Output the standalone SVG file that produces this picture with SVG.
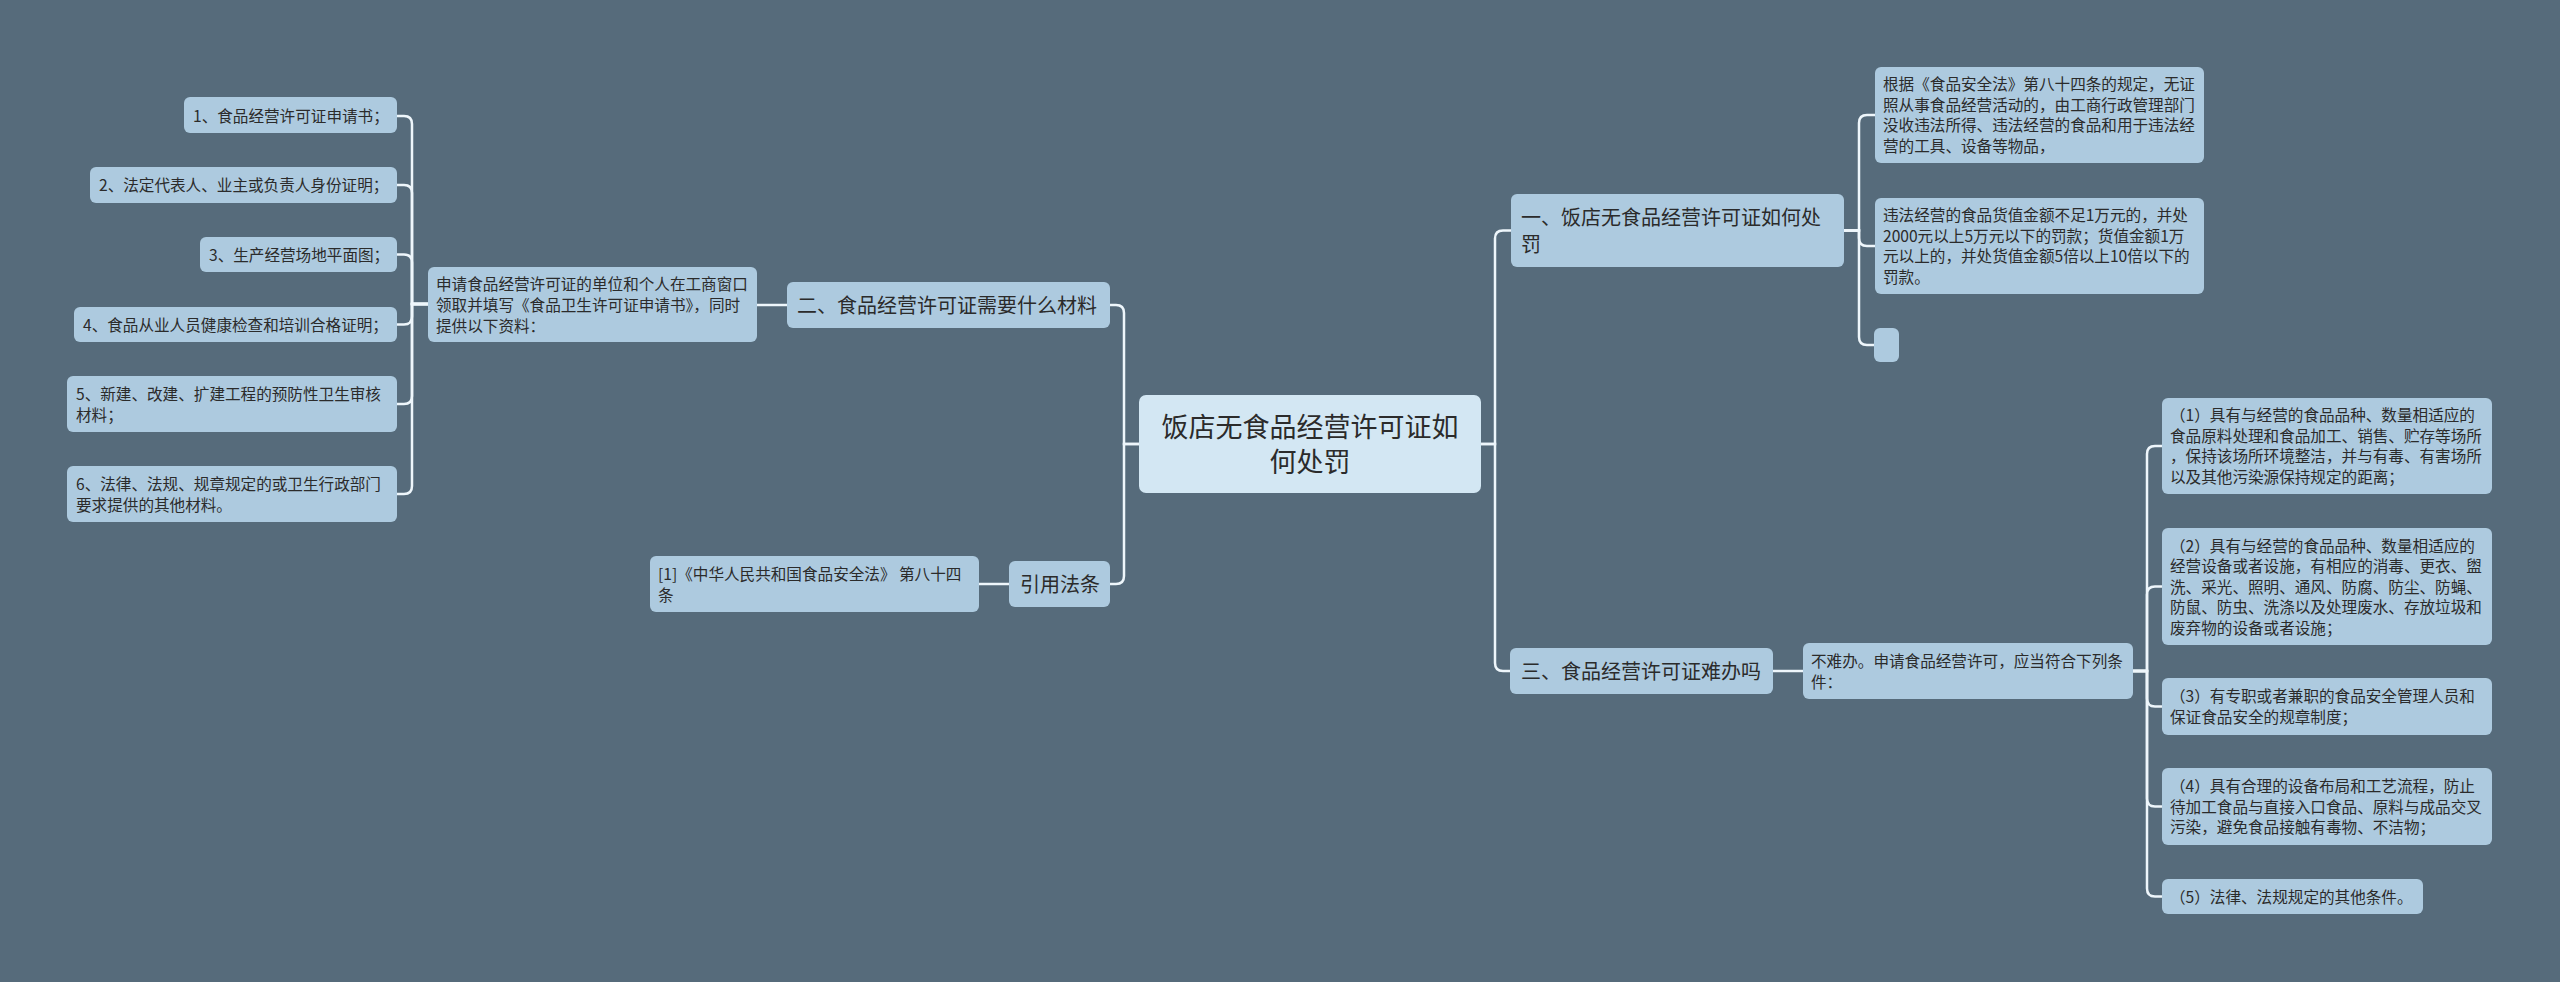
<svg xmlns="http://www.w3.org/2000/svg" width="2560" height="982" viewBox="0 0 2560 982">
<style>
.bg{fill:#566b7b}
.n rect{fill:#adcadf}
.c rect{fill:#d3e7f3}
text{font-family:"Noto Sans CJK SC","Liberation Sans",sans-serif;fill:#2b2b2b}
.l text{font-size:15.6px}
.m text{font-size:20px}
.c text{font-size:27px;text-anchor:middle}
#links path{fill:none;stroke:#eef6fb;stroke-width:2.5}
</style>
<rect class="bg" x="0" y="0" width="2560" height="982"/>
<g id="links">
<path d="M1139,444 H1124 V313 Q1124,305 1116,305 H1110"/>
<path d="M1139,444 H1124 V576 Q1124,584 1116,584 H1110"/>
<path d="M787,305 H757"/>
<path d="M428,304 H412 V124 Q412,116 404,116 H397"/>
<path d="M428,304 H412 V193 Q412,185 404,185 H397"/>
<path d="M428,304 H412 V262.5 Q412,254.5 404,254.5 H397"/>
<path d="M428,304 H412 V316.5 Q412,324.5 404,324.5 H397"/>
<path d="M428,304 H412 V396 Q412,404 404,404 H397"/>
<path d="M428,304 H412 V486 Q412,494 404,494 H397"/>
<path d="M1009,584 H979"/>
<path d="M1481,444 H1495 V238.5 Q1495,230.5 1503,230.5 H1511"/>
<path d="M1481,444 H1495 V663 Q1495,671 1503,671 H1510"/>
<path d="M1844,230.5 H1859 V123 Q1859,115 1867,115 H1875"/>
<path d="M1844,230.5 H1859 V238 Q1859,246 1867,246 H1875"/>
<path d="M1844,230.5 H1859 V337 Q1859,345 1867,345 H1874"/>
<path d="M1773,671 H1803"/>
<path d="M2133,671 H2147 V454 Q2147,446 2155,446 H2162"/>
<path d="M2133,671 H2147 V594.5 Q2147,586.5 2155,586.5 H2162"/>
<path d="M2133,671 H2147 V698.5 Q2147,706.5 2155,706.5 H2162"/>
<path d="M2133,671 H2147 V798.5 Q2147,806.5 2155,806.5 H2162"/>
<path d="M2133,671 H2147 V888.5 Q2147,896.5 2155,896.5 H2162"/>
</g>
<g id="center" class="c">
<rect x="1139" y="395" width="342" height="98" rx="7"/>
<text x="1310" y="436.8">饭店无食品经营许可证如</text>
<text x="1310" y="471.8">何处罚</text>
</g>
<g id="n2" class="n m">
<rect x="787" y="282" width="323" height="46" rx="6"/>
<text x="797" y="312.6">二、食品经营许可证需要什么材料</text>
</g>
<g id="n2a" class="n l">
<rect x="428" y="267" width="329" height="75" rx="6"/>
<text x="436" y="289.5">申请食品经营许可证的单位和个人在工商窗口</text>
<text x="436" y="310.5">领取并填写《食品卫生许可证申请书》，同时</text>
<text x="436" y="331.5">提供以下资料：</text>
</g>
<g id="m1" class="n l">
<rect x="184" y="97" width="213" height="36" rx="6"/>
<text x="193" y="122">1、食品经营许可证申请书；</text>
</g>
<g id="m2" class="n l">
<rect x="90" y="167" width="307" height="36" rx="6"/>
<text x="99" y="191">2、法定代表人、业主或负责人身份证明；</text>
</g>
<g id="m3" class="n l">
<rect x="200" y="237" width="197" height="35" rx="6"/>
<text x="209" y="260.5">3、生产经营场地平面图；</text>
</g>
<g id="m4" class="n l">
<rect x="74" y="307" width="323" height="35" rx="6"/>
<text x="83" y="330.5">4、食品从业人员健康检查和培训合格证明；</text>
</g>
<g id="m5" class="n l">
<rect x="67" y="376" width="330" height="56" rx="6"/>
<text x="76" y="399.5">5、新建、改建、扩建工程的预防性卫生审核</text>
<text x="76" y="420.5">材料；</text>
</g>
<g id="m6" class="n l">
<rect x="67" y="466" width="330" height="56" rx="6"/>
<text x="76" y="489.5">6、法律、法规、规章规定的或卫生行政部门</text>
<text x="76" y="510.5">要求提供的其他材料。</text>
</g>
<g id="ref" class="n m">
<rect x="1009" y="561" width="101" height="46" rx="6"/>
<text x="1020" y="591.6">引用法条</text>
</g>
<g id="ref1" class="n l">
<rect x="650" y="556" width="329" height="56" rx="6"/>
<text x="658" y="579.5">[1]《中华人民共和国食品安全法》 第八十四</text>
<text x="658" y="600.5">条</text>
</g>
<g id="n1" class="n m">
<rect x="1511" y="194" width="333" height="73" rx="6"/>
<text x="1521" y="224.6">一、饭店无食品经营许可证如何处</text>
<text x="1521" y="251.6">罚</text>
</g>
<g id="n1a" class="n l">
<rect x="1875" y="67" width="329" height="96" rx="6"/>
<text x="1883" y="90.2">根据《食品安全法》第八十四条的规定，无证</text>
<text x="1883" y="110.7">照从事食品经营活动的，由工商行政管理部门</text>
<text x="1883" y="131.2">没收违法所得、违法经营的食品和用于违法经</text>
<text x="1883" y="151.7">营的工具、设备等物品，</text>
</g>
<g id="n1b" class="n l">
<rect x="1875" y="198" width="329" height="96" rx="6"/>
<text x="1883" y="221.2">违法经营的食品货值金额不足1万元的，并处</text>
<text x="1883" y="241.7">2000元以上5万元以下的罚款；货值金额1万</text>
<text x="1883" y="262.2">元以上的，并处货值金额5倍以上10倍以下的</text>
<text x="1883" y="282.7">罚款。</text>
</g>
<g id="n1c" class="n">
<rect x="1874" y="328" width="25" height="34" rx="6"/>
</g>
<g id="n3" class="n m">
<rect x="1510" y="648" width="263" height="46" rx="6"/>
<text x="1521" y="678.6">三、食品经营许可证难办吗</text>
</g>
<g id="n3a" class="n l">
<rect x="1803" y="643" width="330" height="56" rx="6"/>
<text x="1811" y="666.5">不难办。申请食品经营许可，应当符合下列条</text>
<text x="1811" y="687.5">件：</text>
</g>
<g id="c1" class="n l">
<rect x="2162" y="398" width="330" height="96" rx="6"/>
<text x="2170" y="421.2">（1）具有与经营的食品品种、数量相适应的</text>
<text x="2170" y="441.7">食品原料处理和食品加工、销售、贮存等场所</text>
<text x="2170" y="462.2">，保持该场所环境整洁，并与有毒、有害场所</text>
<text x="2170" y="482.7">以及其他污染源保持规定的距离；</text>
</g>
<g id="c2" class="n l">
<rect x="2162" y="528" width="330" height="117" rx="6"/>
<text x="2170" y="551.5">（2）具有与经营的食品品种、数量相适应的</text>
<text x="2170" y="572">经营设备或者设施，有相应的消毒、更衣、盥</text>
<text x="2170" y="592.5">洗、采光、照明、通风、防腐、防尘、防蝇、</text>
<text x="2170" y="613">防鼠、防虫、洗涤以及处理废水、存放垃圾和</text>
<text x="2170" y="633.5">废弃物的设备或者设施；</text>
</g>
<g id="c3" class="n l">
<rect x="2162" y="678" width="330" height="57" rx="6"/>
<text x="2170" y="702">（3）有专职或者兼职的食品安全管理人员和</text>
<text x="2170" y="723">保证食品安全的规章制度；</text>
</g>
<g id="c4" class="n l">
<rect x="2162" y="768" width="330" height="77" rx="6"/>
<text x="2170" y="792">（4）具有合理的设备布局和工艺流程，防止</text>
<text x="2170" y="812.5">待加工食品与直接入口食品、原料与成品交叉</text>
<text x="2170" y="833">污染，避免食品接触有毒物、不洁物；</text>
</g>
<g id="c5" class="n l">
<rect x="2162" y="879" width="261" height="35" rx="6"/>
<text x="2170" y="902.5">（5）法律、法规规定的其他条件。</text>
</g>
</svg>
